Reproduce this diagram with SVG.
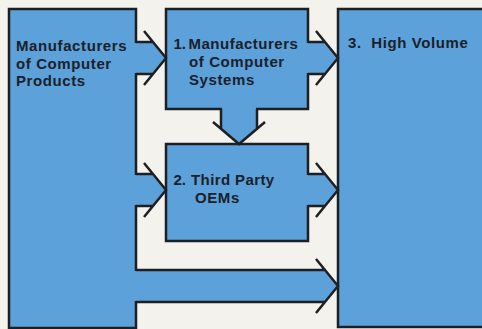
<svg xmlns="http://www.w3.org/2000/svg" width="482" height="329" viewBox="0 0 482 329">
<style>
.bg{fill:#f3f2ec}
.box{fill:#5ca1da;stroke:#1e1f22;stroke-width:2.5}
.band{fill:#5ca1da;stroke:none}
.ln{fill:none;stroke:#1e1f22;stroke-width:2.5;stroke-linejoin:miter;stroke-linecap:butt}
.t{font-family:"Liberation Sans",Arial,Helvetica,sans-serif;font-weight:bold;font-size:15px;letter-spacing:0.6px;fill:#1b2029}
.num{letter-spacing:0;word-spacing:-3px}
</style>
<rect class="bg" x="0" y="0" width="482" height="329"/>
<g id="node-products">
<rect class="box" x="9" y="9" width="127" height="319"/>
<text class="t" x="16" y="51">Manufacturers</text>
<text class="t" x="16" y="68.5">of Computer</text>
<text class="t" x="16" y="86">Products</text>
</g>
<g id="node-systems">
<rect class="box" x="166" y="9" width="142" height="100"/>
<text class="t" x="173.5" y="49"><tspan class="num">1. </tspan><tspan x="188.5" letter-spacing="0.5">Manufacturers</tspan></text>
<text class="t" x="189" y="67">of Computer</text>
<text class="t" x="189" y="85">Systems</text>
</g>
<g id="node-oems">
<rect class="box" x="166" y="144" width="142" height="97"/>
<text class="t" x="173.5" y="185"><tspan class="num">2. </tspan><tspan x="191" letter-spacing="0.4">Third Party</tspan></text>
<text class="t" x="195" y="203">OEMs</text>
</g>
<g id="node-highvolume">
<rect class="box" x="338" y="9" width="160" height="318"/>
<text class="t" x="348" y="48" xml:space="preserve">3.  High Volume</text>
</g>
<g id="connectors">
<polygon class="band" points="132,43 153,43 165,58 153,73 132,73"/>
<path class="ln" d="M136,42H153M136,74H153M144,31L166,58L144,85"/>
<polygon class="band" points="304,43 325,43 337,58 325,73 304,73"/>
<path class="ln" d="M308,42H325M308,74H325M316,31L338,58L316,85"/>
<polygon class="band" points="132,175 153,175 165,190 153,205 132,205"/>
<path class="ln" d="M136,174H153M136,206H153M144,163L166,190L144,217"/>
<polygon class="band" points="304,175 325,175 337,190 325,205 304,205"/>
<path class="ln" d="M308,174H325M308,206H325M316,163L338,190L316,217"/>
<polygon class="band" points="132,271 325,271 337,286 325,301 132,301"/>
<path class="ln" d="M136,270H325M136,302H325M316,259L338,286L316,313"/>
<polygon class="band" points="222,105 222,128.8 239,143 256,128.8 256,105"/>
<path class="ln" d="M221,109V128.8M257,109V128.8M213,122L239,144L265,122"/>
</g>
</svg>
